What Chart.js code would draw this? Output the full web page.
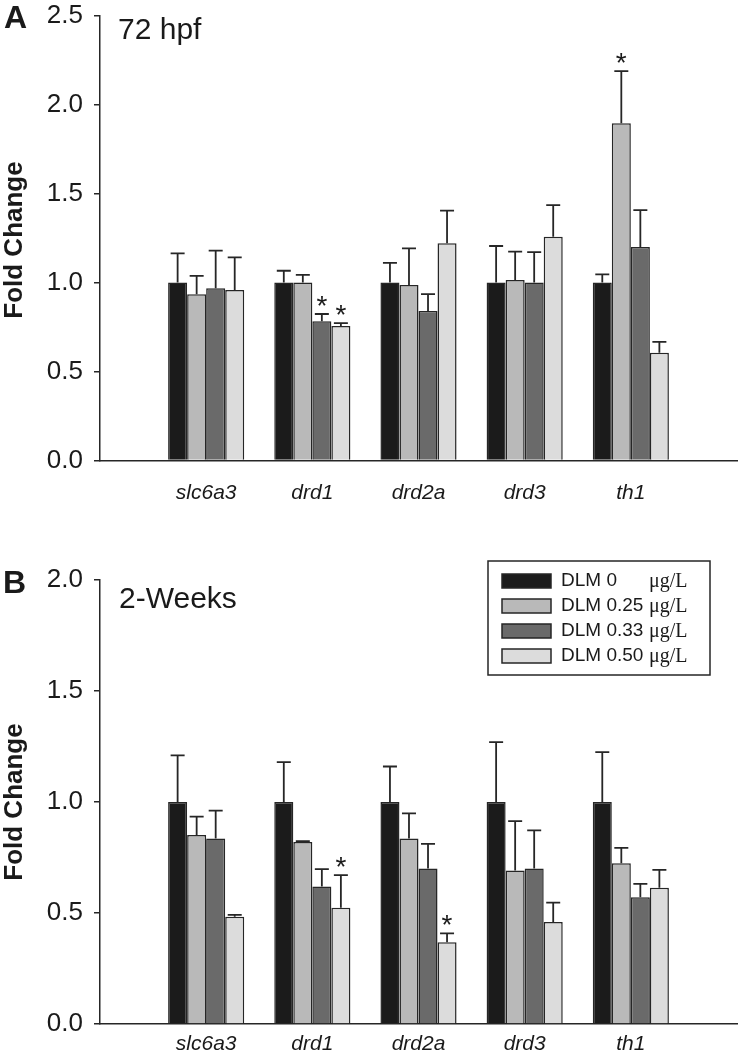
<!DOCTYPE html>
<html><head><meta charset="utf-8">
<script src="https://cdn.jsdelivr.net/npm/chart.js@4/dist/chart.umd.min.js"></script>
<style>
html,body{margin:0;padding:0;background:#fff;width:738px;height:1059px;overflow:hidden;font-family:"Liberation Sans",Arial,sans-serif;}
.wrap{position:absolute;left:0;width:738px;}
canvas{display:block;}
.lbl{position:absolute;color:#1a1a1a;white-space:nowrap;line-height:1;}
.ytitle{position:absolute;color:#1a1a1a;white-space:nowrap;line-height:1;font-weight:bold;font-size:26px;transform:translate(-50%,-50%) rotate(-90deg);}
</style></head><body>
<div class="wrap" style="top:0;height:530px"><canvas id="ca" width="738" height="530"></canvas></div>
<div class="wrap" style="top:530px;height:529px"><canvas id="cb" width="738" height="529"></canvas></div>
<div class="lbl" style="left:4px;top:1px;font-weight:bold;font-size:32px">A</div>
<div class="lbl" style="left:118px;top:14px;font-size:30px">72 hpf</div>
<div class="ytitle" style="left:13px;top:240px">Fold Change</div>
<div class="lbl" style="left:3px;top:566px;font-weight:bold;font-size:32px">B</div>
<div class="lbl" style="left:119px;top:583px;font-size:30px">2-Weeks</div>
<div class="ytitle" style="left:13px;top:802px">Fold Change</div>
<script>
// ---- data ----
const categories = ['slc6a3','drd1','drd2a','drd3','th1'];
const seriesLabels = ['DLM 0','DLM 0.25','DLM 0.33','DLM 0.50'];
const unitLabel = 'μg/L';
const seriesColors = ['#1b1b1b','#b9b9b9','#6a6a6a','#dcdcdc'];

// Panel A: 72 hpf (means, upper error, significance)
const a_dlm0   = [1.00, 1.00, 1.00, 1.00, 1.00];
const a_dlm025 = [0.934, 1.00, 0.986, 1.014, 1.894];
const a_dlm033 = [0.967, 0.782, 0.840, 1.00, 1.199];
const a_dlm050 = [0.958, 0.756, 1.220, 1.257, 0.606];
const a_err0   = [0.164, 0.066, 0.110, 0.205, 0.046];
const a_err025 = [0.103, 0.043, 0.206, 0.159, 0.294];
const a_err033 = [0.212, 0.041, 0.095, 0.171, 0.208];
const a_err050 = [0.183, 0.016, 0.184, 0.178, 0.060];
const a_sig0   = [0,0,0,0,0];
const a_sig025 = [0,0,0,0,1];
const a_sig033 = [0,1,0,0,0];
const a_sig050 = [0,1,0,0,0];
const a_yTicks = [0, 0.5, 1.0, 1.5, 2.0, 2.5];

// Panel B: 2-Weeks
const b_dlm0   = [1.00, 1.00, 1.00, 1.00, 1.00];
const b_dlm025 = [0.851, 0.820, 0.836, 0.692, 0.724];
const b_dlm033 = [0.836, 0.619, 0.701, 0.701, 0.571];
const b_dlm050 = [0.483, 0.524, 0.368, 0.459, 0.614];
const b_err0   = [0.210, 0.180, 0.160, 0.270, 0.225];
const b_err025 = [0.083, 0.004, 0.113, 0.222, 0.069];
const b_err033 = [0.125, 0.079, 0.110, 0.171, 0.060];
const b_err050 = [0.009, 0.147, 0.040, 0.088, 0.080];
const b_sig0   = [0,0,0,0,0];
const b_sig025 = [0,0,0,0,0];
const b_sig033 = [0,0,0,0,0];
const b_sig050 = [0,1,1,0,0];
const b_yTicks = [0, 0.5, 1.0, 1.5, 2.0];

// ---- plugins ----
const INK = '#262626';
const errorBarsPlugin = {
  id: 'errorBars',
  afterDatasetsDraw(chart) {
    const ctx = chart.ctx, ys = chart.scales.y;
    chart.data.datasets.forEach((ds, di) => {
      const meta = chart.getDatasetMeta(di);
      meta.data.forEach((bar, i) => {
        const v = ds.data[i], e = ds.errors[i];
        if (v == null || e == null) return;
        const top = ys.getPixelForValue(v + e);
        ctx.save();
        ctx.strokeStyle = INK; ctx.lineWidth = 1.8;
        ctx.beginPath();
        ctx.moveTo(bar.x, bar.y); ctx.lineTo(bar.x, top);
        ctx.moveTo(bar.x - 7, top); ctx.lineTo(bar.x + 7, top);
        ctx.stroke();
        if (ds.sig[i]) {
          ctx.fillStyle = '#1a1a1a';
          ctx.font = '28px "Liberation Sans", Arial, sans-serif';
          ctx.textAlign = 'center'; ctx.textBaseline = 'alphabetic';
          ctx.fillText('*', bar.x, top + 1);
        }
        ctx.restore();
      });
    });
  }
};
const boxLegendPlugin = {
  id: 'boxLegend',
  afterDraw(chart, args, o) {
    if (!o || !o.show) return;
    const ctx = chart.ctx;
    ctx.save();
    ctx.strokeStyle = INK; ctx.lineWidth = 1.5;
    ctx.strokeRect(o.x, o.y, o.w, o.h);
    chart.data.datasets.forEach((ds, i) => {
      const cy = o.y + o.firstRow + i * o.rowGap;
      ctx.fillStyle = ds.backgroundColor;
      ctx.fillRect(o.x + 14, cy - 7, 49, 14);
      ctx.lineWidth = 1.5; ctx.strokeStyle = INK;
      ctx.strokeRect(o.x + 14, cy - 7, 49, 14);
      ctx.fillStyle = '#1a1a1a';
      ctx.textBaseline = 'middle'; ctx.textAlign = 'left';
      ctx.font = '19px "Liberation Sans", Arial, sans-serif';
      ctx.fillText(ds.label, o.x + 73, cy);
      ctx.font = '20px "Liberation Serif", "Times New Roman", serif';
      ctx.fillText(unitLabel, o.x + 161, cy + 1);
    });
    ctx.restore();
  }
};

function makeChart(id, means, errs, sigs, yMax, yTicks, padTop, xH, xPad, legendOpts) {
  const labels = ['', ...categories, ''];
  const pad = a => [null, ...a, null];
  return new Chart(document.getElementById(id), {
    type: 'bar',
    data: {
      labels,
      datasets: means.map((m, i) => ({
        label: seriesLabels[i], data: pad(m), errors: pad(errs[i]), sig: pad(sigs[i]),
        backgroundColor: seriesColors[i], borderColor: INK, borderWidth: 1.5,
        barPercentage: 1.0, categoryPercentage: 0.717
      }))
    },
    options: {
      responsive: false, animation: false,
      layout: { padding: { top: padTop, right: 1, left: 0, bottom: 0 } },
      plugins: { legend: { display: false }, tooltip: { enabled: false }, boxLegend: legendOpts },
      scales: {
        x: {
          offset: false,
          grid: { display: false, drawTicks: false },
          border: { display: true, color: INK, width: 1.5 },
          ticks: { font: { family: 'Liberation Sans', size: 21, style: 'italic' }, color: '#1a1a1a', padding: xPad, maxRotation: 0, autoSkip: false },
          afterFit: s => { s.height = xH; s.paddingLeft = 0; s.paddingRight = 0; }
        },
        y: {
          min: 0, max: yMax,
          grid: { drawOnChartArea: false, drawTicks: true, tickLength: 6, color: INK, lineWidth: 1.5 },
          border: { color: INK, width: 1.5 },
          ticks: { font: { family: 'Liberation Sans', size: 26 }, color: '#1a1a1a', padding: 11, callback: v => Number(v).toFixed(1) },
          afterBuildTicks: s => { s.ticks = yTicks.map(v => ({ value: v })); },
          afterFit: s => { s.width = 100; s.paddingTop = 0; s.paddingBottom = 0; }
        }
      }
    },
    plugins: [errorBarsPlugin, boxLegendPlugin]
  });
}

makeChart('ca',
  [a_dlm0, a_dlm025, a_dlm033, a_dlm050],
  [a_err0, a_err025, a_err033, a_err050],
  [a_sig0, a_sig025, a_sig033, a_sig050],
  2.5, a_yTicks, 15.5, 69.5, 20, { show: false });

makeChart('cb',
  [b_dlm0, b_dlm025, b_dlm033, b_dlm050],
  [b_err0, b_err025, b_err033, b_err050],
  [b_sig0, b_sig025, b_sig033, b_sig050],
  2.0, b_yTicks, 50, 35, 8, { show: true, x: 488, y: 31, w: 222, h: 114, firstRow: 20, rowGap: 25 });
</script>
</body></html>
